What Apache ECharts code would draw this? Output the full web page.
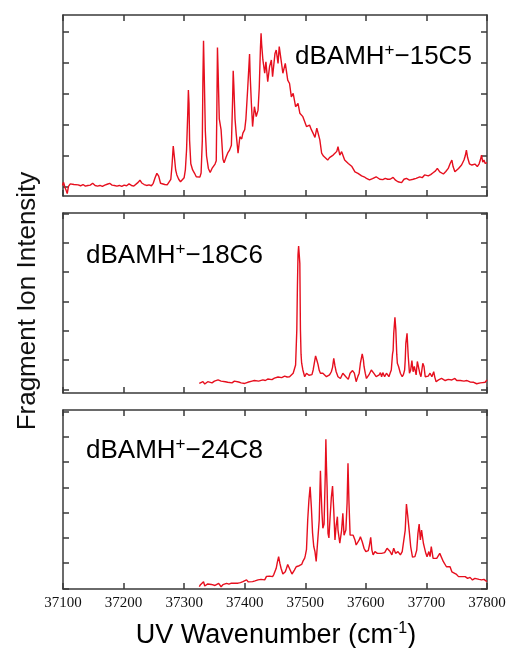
<!DOCTYPE html>
<html><head><meta charset="utf-8">
<script src="https://cdn.jsdelivr.net/npm/echarts@6/dist/echarts.min.js"></script>
<style>html,body{margin:0;padding:0;background:#fff}#c{width:509px;height:648px}</style>
</head><body><div id="c"></div>
<script>
// ---- Data: UV wavenumber (cm-1) and fragment ion intensity (arb. units) ----
const wn15C5 = [37099,37101,37103,37105,37107,37109,37112,37115,37118,37121,37125,37129,37133,37137,37141,37145,37149,37153,37157,37161,37165,37169,37173,37177,37181,37185,37189,37193,37197,37201,37205,37209,37213,37217,37220,37224,37227,37230,37234,37238,37242,37246,37249,37252,37255,37258,37261,37264,37268,37272,37275,37278,37280,37282,37284,37286,37288,37291,37294,37297,37300,37302,37304,37306,37307,37308,37309,37311,37314,37317,37320,37323,37326,37328,37330,37331,37332,37333,37335,37337,37340,37343,37346,37349,37351,37353,37354,37355,37356,37358,37361,37364,37366,37369,37372,37375,37378,37380,37381,37382,37384,37386,37389,37392,37395,37397,37400,37402,37405,37408,37409,37411,37413,37416,37419,37422,37424,37426,37427,37428,37430,37433,37435,37438,37441,37444,37446,37450,37452,37455,37457,37460,37463,37467,37471,37474,37477,37480,37484,37488,37491,37496,37502,37507,37510,37513,37516,37519,37521,37524,37527,37530,37533,37537,37540,37543,37546,37549,37552,37554,37557,37560,37562,37565,37568,37571,37574,37577,37582,37587,37593,37597,37601,37606,37611,37617,37620,37623,37628,37632,37636,37640,37645,37649,37653,37656,37659,37663,37667,37672,37678,37683,37689,37693,37697,37700,37703,37707,37711,37715,37718,37722,37725,37728,37732,37736,37739,37742,37744,37747,37750,37753,37756,37758,37762,37764,37766,37768,37771,37775,37778,37780,37784,37787,37789,37791,37793,37795,37797,37800];
const int15C5 = [0.05,0.15,0.0,-0.1,-0.21,0.02,0.10,0.04,0.08,0.03,0.07,0.04,0.08,0.03,0.05,0.06,0.12,0.05,0.03,0.05,0.02,0.06,0.09,0.12,0.06,0.05,0.03,0.05,0.02,0.06,0.04,0.10,0.05,0.03,0.06,0.15,0.22,0.13,0.08,0.05,0.07,0.04,0.12,0.30,0.44,0.35,0.12,0.06,0.08,0.07,0.10,0.25,0.70,1.32,0.95,0.55,0.39,0.25,0.17,0.20,0.30,0.55,1.2,2.4,3.13,2.7,1.5,0.75,0.55,0.45,0.33,0.28,0.32,0.45,1.5,3.5,4.72,3.8,1.8,1.0,0.60,0.47,0.60,0.66,0.74,0.85,2.5,4.5,3.8,2.2,1.84,0.90,0.78,0.95,1.10,1.19,1.35,2.8,3.75,3.3,2.2,1.7,1.09,1.62,1.55,1.74,1.85,2.2,3.2,4.29,3.6,2.70,1.95,2.59,2.27,2.48,3.2,4.5,4.96,4.6,4.10,3.67,4.04,3.40,3.88,4.10,3.56,4.31,4.42,3.99,4.53,4.10,3.67,3.99,3.45,3.34,2.91,3.02,2.59,2.70,2.38,2.27,1.95,2.00,1.85,1.73,1.6,1.9,1.75,1.52,1.09,1.0,0.98,0.87,0.95,0.98,1.03,1.08,1.15,1.30,1.03,1.14,1.20,0.87,0.87,0.76,0.74,0.66,0.49,0.44,0.36,0.33,0.28,0.23,0.27,0.33,0.28,0.25,0.24,0.28,0.25,0.25,0.31,0.22,0.17,0.20,0.14,0.25,0.28,0.22,0.25,0.28,0.33,0.30,0.39,0.36,0.36,0.40,0.46,0.52,0.60,0.49,0.45,0.42,0.50,0.60,0.75,0.87,0.66,0.49,0.55,0.60,0.65,0.71,0.87,1.0,1.19,0.95,0.75,0.71,0.74,0.74,0.66,0.75,0.87,1.03,0.80,0.87,0.76,0.79];

const wn18C6 = [37325,37328,37331,37334,37336,37339,37342,37346,37350,37353,37356,37358,37361,37364,37368,37372,37375,37379,37383,37386,37390,37394,37397,37400,37402,37405,37408,37412,37416,37419,37423,37426,37430,37434,37438,37441,37445,37449,37452,37455,37457,37461,37464,37466,37470,37474,37477,37480,37482,37484,37486,37487,37488,37489,37490,37491,37492,37493,37494,37496,37499,37502,37504,37506,37508,37511,37513,37515,37517,37519,37521,37523,37525,37529,37532,37535,37538,37540,37543,37545,37547,37549,37551,37554,37558,37562,37565,37567,37571,37574,37578,37581,37584,37587,37589,37591,37594,37596,37597,37599,37601,37605,37609,37611,37613,37617,37620,37622,37624,37626,37628,37631,37634,37636,37638,37640,37642,37644,37645,37646,37648,37649.5,37651,37652,37654,37657,37660,37662,37664,37665,37666,37668,37670,37672,37674,37676,37678,37680,37683,37685,37687,37689,37691,37694,37696,37698,37701,37703,37706,37709,37712,37714,37716,37720,37725,37728,37731,37736,37739,37742,37745,37747,37750,37753,37756,37758,37762,37764,37767,37769,37772,37775,37778,37780,37783,37786,37789,37791,37793,37795,37797,37798,37800];
const int18C6 = [0.20,0.26,0.26,0.18,0.18,0.26,0.26,0.22,0.28,0.30,0.32,0.35,0.28,0.30,0.26,0.24,0.26,0.22,0.28,0.30,0.25,0.22,0.23,0.20,0.18,0.24,0.26,0.28,0.30,0.30,0.28,0.32,0.32,0.30,0.35,0.37,0.33,0.38,0.41,0.42,0.43,0.40,0.44,0.45,0.42,0.43,0.48,0.55,0.60,0.83,2.03,3.5,4.6,4.89,4.6,4.30,2.03,1.2,0.89,0.66,0.43,0.55,0.49,0.48,0.43,0.50,0.66,0.9,1.14,1.0,0.85,0.65,0.55,0.55,0.50,0.43,0.47,0.49,0.60,0.75,1.06,0.80,0.60,0.43,0.37,0.55,0.50,0.43,0.34,0.55,0.64,0.55,0.26,0.45,0.55,0.89,1.21,1.0,0.78,0.55,0.37,0.49,0.66,0.60,0.55,0.43,0.47,0.49,0.57,0.43,0.57,0.43,0.55,0.50,0.43,0.55,0.66,1.2,1.32,1.9,2.46,2.03,1.2,0.89,0.78,0.55,0.43,0.50,0.66,1.0,1.57,1.91,1.12,0.55,0.66,0.98,0.60,0.78,0.49,0.95,0.98,0.55,0.43,0.89,0.78,0.43,0.37,0.45,0.55,0.43,0.60,0.40,0.26,0.32,0.37,0.33,0.30,0.34,0.30,0.32,0.35,0.37,0.30,0.26,0.30,0.30,0.28,0.26,0.30,0.30,0.25,0.23,0.24,0.20,0.19,0.18,0.22,0.26,0.23,0.20,0.24,0.26,0.32];

const wn24C8 = [37325,37327,37329,37332,37334,37336,37339,37342,37345,37348,37351,37354,37357,37359,37361,37364,37367,37370,37374,37378,37381,37385,37389,37393,37397,37400,37403,37406,37409,37413,37417,37422,37425,37427,37430,37433,37436,37439,37441,37444,37446,37448,37450,37452,37454,37456,37458,37460,37463,37465,37467,37469,37471,37473,37475,37478,37480,37482,37485,37487,37488,37490,37492,37494,37496,37499,37500,37502,37504,37506,37508,37510,37512,37513,37514,37516,37518,37519,37521,37523,37525,37526,37527.5,37529,37531,37533,37534,37535,37536,37537.5,37539,37541,37543,37545,37547,37549,37551,37553,37554,37557,37560,37562,37564,37567,37569,37570.5,37572,37574,37576,37579,37582,37584,37587,37589,37591,37594,37597,37600,37604,37606,37608,37610,37612,37615,37619,37622,37626,37631,37635,37640,37643,37646,37649,37653,37657,37660,37663,37665,37667,37669,37672,37674,37677,37681,37684,37686,37688,37690,37692,37695,37697,37699,37701,37704,37706,37708,37711,37714,37717,37720,37722,37725,37728,37731,37733,37736,37739,37742,37745,37749,37753,37756,37760,37764,37768,37772,37776,37780,37783,37787,37791,37795,37798,37800];
const int24C8 = [0.07,0.15,0.20,0.27,0.10,0.14,0.18,0.14,0.16,0.18,0.12,0.16,0.20,0.23,0.07,0.15,0.18,0.20,0.17,0.21,0.23,0.21,0.21,0.23,0.27,0.30,0.34,0.26,0.23,0.27,0.30,0.34,0.32,0.36,0.34,0.34,0.48,0.42,0.49,0.53,0.47,0.55,0.61,0.80,1.05,1.26,1.0,0.80,0.57,0.62,0.66,0.80,0.95,1.02,0.73,0.57,0.62,0.73,0.86,0.90,0.93,0.90,0.86,0.95,1.07,1.20,1.30,1.55,2.71,3.5,4.02,3.23,2.2,1.92,1.66,1.46,1.07,1.1,1.13,2.71,4.66,3.9,3.0,2.38,2.55,4.5,5.9,4.8,4.02,2.18,2.0,2.84,3.6,4.05,3.1,1.92,2.5,2.84,2.31,1.79,2.31,2.97,2.11,2.31,3.37,4.95,3.50,2.11,2.05,2.11,1.92,1.72,1.78,1.92,2.05,1.85,1.59,1.46,1.50,1.72,2.02,1.52,1.33,1.46,1.39,1.46,1.39,1.42,1.59,1.46,1.33,1.59,1.39,1.46,1.33,1.46,1.52,2.31,3.34,2.90,2.18,1.66,1.24,1.26,1.52,2.18,2.55,1.92,2.31,1.79,1.59,1.39,1.26,1.46,1.26,1.66,1.19,1.26,1.19,1.13,1.39,1.39,1.06,1.0,0.86,0.80,0.86,0.66,0.66,0.57,0.47,0.40,0.47,0.47,0.40,0.44,0.34,0.40,0.47,0.36,0.34,0.36,0.31,0.27];

const xTickLabels = ['37100','37200','37300','37400','37500','37600','37700','37800'];
const panelNames = ['15C5', '18C6', '24C8'];

// ---- layout ----
const panels = [
  {wn: wn15C5, y: int15C5, top: 15, height: 181, min: -0.29, max: 5.55, ticks: [0,1,2,3,4,5]},
  {wn: wn18C6, y: int18C6, top: 213, height: 180, min: -0.126, max: 6.02, ticks: [0,1,2,3,4,5,6]},
  {wn: wn24C8, y: int24C8, top: 410, height: 179, min: -0.02, max: 7.06, ticks: [0,1,2,3,4,5,6,7]}
];
const frame = {color: '#3a3a3a', width: 1.5};
const sans = 'Liberation Sans, Arial, sans-serif';

const chart = echarts.init(document.getElementById('c'), null, {renderer: 'canvas'});
const grid = [], xAxis = [], yAxis = [], series = [];
panels.forEach((p, i) => {
  grid.push({left: 63, right: 22, top: p.top, height: p.height});
  const xBase = {
    type: 'value', gridIndex: i, min: 37100, max: 37800, interval: 100,
    axisLine: {show: true, onZero: false, lineStyle: frame},
    axisTick: {show: true, inside: true, length: 6, lineStyle: frame},
    splitLine: {show: false}
  };
  xAxis.push(Object.assign({}, xBase, {
    position: 'bottom',
    axisLabel: {show: i === 2, fontFamily: 'Liberation Serif, Times New Roman, serif', fontSize: 15, color: '#111', margin: 7,
      formatter: v => xTickLabels[Math.round((v - 37100) / 100)] || ''}
  }));
  xAxis.push(Object.assign({}, xBase, {position: 'top', axisLabel: {show: false}}));
  const yBase = {
    type: 'value', gridIndex: i, min: p.min, max: p.max,
    axisLine: {show: true, onZero: false, lineStyle: frame},
    axisTick: {show: true, inside: true, length: 6, lineStyle: frame, customValues: p.ticks},
    axisLabel: {show: false},
    splitLine: {show: false}
  };
  yAxis.push(Object.assign({}, yBase, {position: 'left'}));
  yAxis.push(Object.assign({}, yBase, {position: 'right'}));
  series.push({
    type: 'line', xAxisIndex: i * 2, yAxisIndex: i * 2,
    data: p.wn.map((w, k) => [w, p.y[k]]),
    showSymbol: false, symbol: 'none', smooth: false, animation: false,
    lineStyle: {color: '#e60f1e', width: 1.4}
  });
});

const labelRich = {
  m: {fontFamily: sans, fontSize: 26, color: '#111'},
  s: {fontFamily: sans, fontSize: 17, color: '#111', padding: [0, 0, 12, 0]}
};
const panelLabelPos = [[295, 60], [86, 259], [86, 454]];
const graphic = panelNames.map((n, i) => ({
  type: 'text', left: panelLabelPos[i][0], top: panelLabelPos[i][1] - 18,
  style: {text: '{m|dBAMH}{s|+}{m|\u2212' + n + '}', rich: labelRich}
}));
graphic.push({
  type: 'text', x: 28, y: 301, rotation: Math.PI / 2,
  style: {text: 'Fragment Ion Intensity', font: '26px ' + sans, fill: '#111', align: 'center', verticalAlign: 'middle'}
});
graphic.push({
  type: 'text', x: 276, y: 636,
  style: {text: '{m|UV Wavenumber (cm}{s|-1}{m|)}', align: 'center', verticalAlign: 'middle',
    rich: {m: {fontFamily: sans, fontSize: 27, color: '#111'}, s: {fontFamily: sans, fontSize: 16, color: '#111', padding: [0, 0, 14, 0]}}}
});

chart.setOption({animation: false, backgroundColor: '#fff', grid, xAxis, yAxis, series, graphic});
</script></body></html>
